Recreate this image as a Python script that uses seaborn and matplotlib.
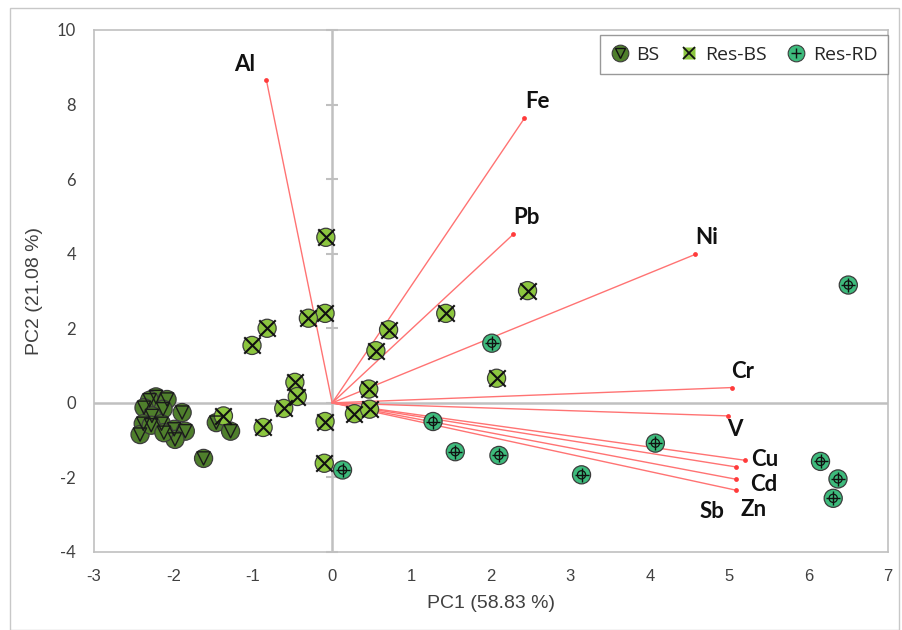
import matplotlib
matplotlib.use("Agg")
import matplotlib.pyplot as plt
import seaborn as sns
import pandas as pd
from matplotlib.lines import Line2D
from matplotlib.patches import Rectangle

# ---------------- data ----------------
bs_pc1 = [-2.22, -2.30, -2.08, -2.37, -2.13, -2.27, -1.89, -2.15, -2.38, -2.42,
          -2.28, -1.99, -1.85, -1.98, -2.12, -1.62, -1.46, -1.28]
bs_pc2 = [0.16, 0.07, 0.09, -0.13, -0.17, -0.35, -0.26, -0.56, -0.56, -0.85,
          -0.60, -0.71, -0.76, -0.98, -0.80, -1.49, -0.53, -0.76]

resbs_pc1 = [-0.08, -0.09, -0.30, -0.82, -1.01, -0.47, -0.44, -0.61, -0.87, -0.09,
             -0.10, 0.28, 0.47, 0.46, 0.55, 0.71, 1.43, 2.46, 2.07, -1.37]
resbs_pc2 = [4.44, 2.40, 2.27, 2.00, 1.54, 0.55, 0.17, -0.15, -0.66, -0.50,
             -1.62, -0.29, -0.17, 0.37, 1.40, 1.96, 2.40, 3.01, 0.66, -0.35]

resrd_pc1 = [0.13, 1.27, 1.55, 2.01, 2.10, 3.14, 4.07, 6.15, 6.37, 6.31, 6.50]
resrd_pc2 = [-1.80, -0.50, -1.31, 1.60, -1.41, -1.93, -1.08, -1.57, -2.04, -2.56, 3.16]

elements = ["Al", "Fe", "Pb", "Ni", "Cr", "V", "Cu", "Cd", "Zn", "Sb"]
load_pc1 = [-0.83, 2.42, 2.28, 4.57, 5.03, 4.99, 5.20, 5.09, 5.09, 5.08]
load_pc2 = [8.67, 7.63, 4.52, 3.98, 0.41, -0.35, -1.54, -1.72, -2.05, -2.34]
label_x = [-1.10, 2.58, 2.45, 4.72, 5.17, 5.07, 5.45, 5.43, 5.31, 4.78]
label_y = [9.08, 8.08, 4.97, 4.44, 0.85, -0.71, -1.51, -2.18, -2.85, -2.91]

groups = ["BS", "Res-BS", "Res-RD"]
x_ticks = list(range(-3, 8))
y_ticks = list(range(-4, 11, 2))

# ---------------- style ----------------
sns.set_theme(style="white")
plt.rcParams["font.family"] = ["Liberation Sans", "DejaVu Sans"]

colors = {"BS": "#4f7f2c", "Res-BS": "#8cc63f", "Res-RD": "#3dbb7c"}
edge = "#3c3c3c"

df = pd.DataFrame({
    "PC1": bs_pc1 + resbs_pc1 + resrd_pc1,
    "PC2": bs_pc2 + resbs_pc2 + resrd_pc2,
    "group": ["BS"] * len(bs_pc1) + ["Res-BS"] * len(resbs_pc1) + ["Res-RD"] * len(resrd_pc1),
})

fig = plt.figure(figsize=(9.03, 6.30), dpi=100)
ax = fig.add_axes([94 / 903, 1 - 552 / 630, (888 - 94) / 903, (552 - 30) / 630])

# outer frame of the figure
fig.patches.append(Rectangle((10 / 903, 0.0), (899 - 10) / 903, 1 - 8 / 630,
                             transform=fig.transFigure, fill=False,
                             edgecolor="#c8c8c8", linewidth=1.0))

# zero axes
ax.axhline(0, color="#c0c0c0", lw=1.8, zorder=1)
ax.axvline(0, color="#c0c0c0", lw=1.8, zorder=1)
ax.scatter([0] * len(y_ticks), y_ticks, marker="_", s=80, color="#c0c0c0",
           linewidths=1.5, zorder=1, clip_on=False)

# loadings
for ex, ey, name, lx, ly in zip(load_pc1, load_pc2, elements, label_x, label_y):
    ax.plot([0, ex], [0, ey], color="#ff7373", lw=1.0, zorder=2)
    ax.text(lx, ly, name, ha="center", va="center", fontsize=16,
            fontweight="bold", family=["Lato", "DejaVu Sans"], color="#111111", zorder=5)
ax.scatter(load_pc1, load_pc2, s=12, color="#ff3b3b", zorder=2, linewidths=0)

# scores
sns.scatterplot(data=df, x="PC1", y="PC2", hue="group", hue_order=groups,
                palette=colors, s=170, edgecolor=edge, linewidth=0.9,
                legend=False, ax=ax, zorder=3)
ax.scatter(bs_pc1, bs_pc2, marker="v", s=90, facecolors="none",
           edgecolors="#1a1a1a", linewidths=1.0, zorder=4)
ax.scatter(resbs_pc1, resbs_pc2, marker="x", s=140, color="#111111",
           linewidths=1.5, zorder=4)
ax.scatter(resrd_pc1, resrd_pc2, marker="+", s=110, color="#111111",
           linewidths=1.0, zorder=4)
ax.scatter(resrd_pc1, resrd_pc2, marker="o", s=35, facecolors="none",
           edgecolors="#111111", linewidths=0.9, zorder=4)

# axes
ax.set_xlim(-3, 7)
ax.set_ylim(-4, 10)
ax.set_xticks(x_ticks)
ax.set_yticks(y_ticks)
ax.set_xticklabels([str(t) for t in x_ticks], fontsize=12, color="#404040",
                   family=["Liberation Sans Narrow", "Liberation Sans", "DejaVu Sans"])
ax.set_yticklabels([str(t) for t in y_ticks], fontsize=12, color="#404040",
                   family=["Lato", "DejaVu Sans"])
ax.tick_params(axis="both", length=0)
ax.tick_params(axis="x", pad=12)
ax.tick_params(axis="y", pad=13)
ax.set_xlabel("PC1 (58.83 %)", fontsize=14, color="#404040", labelpad=8,
              family=["Liberation Sans Narrow", "Liberation Sans", "DejaVu Sans"])
ax.set_ylabel("PC2 (21.08 %)", fontsize=14, color="#404040", labelpad=10)
for sp in ax.spines.values():
    sp.set_color("#c0c0c0")
    sp.set_linewidth(1.2)
ax.grid(False)

# legend
glyphs = {"BS": dict(marker="v", markersize=7, mfc="none", mec="#111111", mew=1.0),
          "Res-BS": dict(marker="x", markersize=9, color="#111111", mew=1.3),
          "Res-RD": dict(marker="+", markersize=7, color="#111111", mew=1.0)}
handles = []
for g in groups:
    if g == "Res-BS":
        circ = Line2D([], [], ls="none", marker="s", markersize=9, mfc=colors[g], mec="none")
    else:
        circ = Line2D([], [], ls="none", marker="o", markersize=12,
                      mfc=colors[g], mec=edge, mew=0.8)
    gl = Line2D([], [], ls="none", **glyphs[g])
    handles.append((circ, gl))
leg = ax.legend(handles, groups, ncol=3, loc="upper right",
                bbox_to_anchor=(1.0, 1 - 5 / 522), borderaxespad=0.0,
                frameon=True, fancybox=False,
                edgecolor="#808080", handlelength=1.0, handletextpad=0.35,
                columnspacing=1.0, borderpad=0.55,
                prop={"family": ["Open Sans", "DejaVu Sans"], "size": 14})
leg.get_frame().set_linewidth(1.0)

fig.savefig("out.png", dpi=100)
